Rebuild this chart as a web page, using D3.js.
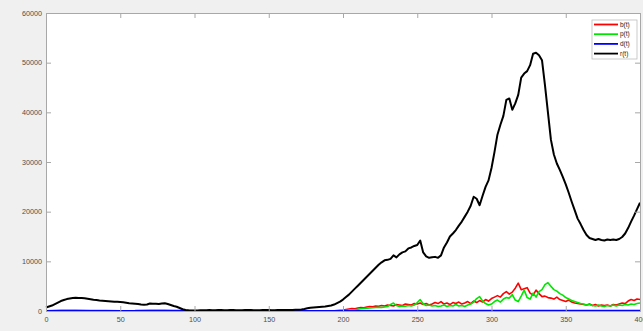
<!DOCTYPE html>
<html>
<head>
<meta charset="utf-8">
<script src="https://cdn.jsdelivr.net/npm/d3@7"></script>
<style>
  html, body { margin: 0; padding: 0; background: #f0f0f0; }
  svg { display: block; font-family: "Liberation Sans", Arial, sans-serif; }
</style>
</head>
<body>
<svg id="chart" width="643" height="331"></svg>
<script>
// r(t), sampled every 2 days from t = 0 to 400
const rValues = [
  700, 900, 1100, 1400, 1700, 2000, 2200, 2400, 2500, 2600,
  2650, 2600, 2600, 2550, 2450, 2350, 2250, 2200, 2100, 2050,
  2000, 1950, 1900, 1850, 1850, 1800, 1750, 1650, 1550, 1500,
  1450, 1400, 1300, 1250, 1300, 1500, 1450, 1450, 1400, 1500,
  1550, 1400, 1200, 1000, 850, 600, 350, 200, 150, 120,
  100, 120, 150, 130, 160, 180, 150, 170, 200, 190,
  160, 150, 180, 200, 170, 150, 160, 190, 210, 180,
  160, 150, 170, 190, 200, 180, 170, 160, 180, 200,
  220, 210, 190, 200, 230, 250, 300, 400, 550, 650,
  700, 750, 800, 850, 900, 1000, 1100, 1300, 1600, 1900,
  2300, 2800, 3300, 3900, 4500, 5100, 5700, 6300, 6900, 7500,
  8100, 8700, 9300, 9800, 10200, 10300, 10500, 11200, 10800, 11400,
  11800, 12000, 12600, 12800, 13100, 13300, 14200, 11800, 11000, 10700,
  10800, 10900, 10700, 11200, 12800, 13800, 15000, 15600, 16300, 17200,
  18000, 19000, 20000, 21200, 23000, 22600, 21300, 23200, 25000, 26300,
  28800, 32000, 35500, 37500, 39300, 42500, 42800, 40500, 41800, 43500,
  47000, 47800, 48300, 49500, 51800, 52000, 51500, 50500, 45500, 40000,
  34500, 31500, 29700, 28400, 27000, 25500, 23800, 22000, 20300, 18600,
  17500, 16300, 15300, 14700, 14500, 14300, 14500, 14300, 14200, 14400,
  14300, 14400, 14300, 14500, 14900, 15600, 16700, 18000, 19200, 20500,
  21800
];

// b(t), p(t), d(t) before the outbreak: sparse samples
const earlyDays = [0, 10, 20, 30, 40, 50, 60, 70, 80, 90, 100, 120, 140, 160, 180, 194];
const bEarly = [60, 120, 150, 90, 80, 60, 70, 150, 120, 60, 30, 20, 20, 30, 40, 60];
const pEarly = [30, 50, 60, 50, 40, 40, 30, 50, 40, 120, 40, 20, 10, 20, 10, 0];
const dEarly = [10, 20, 20, 20, 20, 10, 10, 20, 20, 20, 10, 10, 10, 10, 10, 10];

// b(t), p(t), d(t) from t = 196 to 400, every 2 days
const bLate = [
  100, 150, 200, 300, 400, 500, 450, 600, 700, 650,
  800, 900, 850, 1000, 950, 1100, 1000, 1200, 1100, 1000,
  1300, 1200, 1100, 1400, 1300, 1200, 1500, 1400, 1600, 1300,
  1500, 1200, 1400, 1700, 1500, 1900, 1400, 1600, 1300, 1700,
  1500, 1800, 1400, 1600, 1900, 1500, 2000, 1700, 2100, 1800,
  2300, 2000, 2500, 2800, 3100, 2800, 3500, 3900, 3400, 3800,
  4600, 5600, 4300, 4500, 4700, 3600, 3200, 4200, 3500, 2900,
  3000, 2700, 2600, 2400, 2800, 2300, 2100, 1900, 2200, 1800,
  1600, 1500, 1400, 1300, 1200, 1400, 1100, 1300, 1000, 1200,
  1100, 1200, 1000, 1300, 1200, 1400, 1600, 1500, 2000, 2300,
  2100, 2400, 2300
];
const pLate = [
  0, 0, 50, 100, 150, 200, 250, 350, 450, 500,
  550, 600, 650, 700, 750, 700, 800, 900, 1300, 1600,
  1100, 900, 1000, 950, 1100, 1000, 1200, 1700, 2300, 1400,
  1100, 1200, 1000, 1100, 900, 1000, 1200, 900, 1100, 1000,
  1300, 1000, 1100, 900, 1200, 1400, 1800, 2500, 2900, 2000,
  1500, 1200, 1400, 1900, 2200, 1800, 2400, 2700, 2600, 3300,
  2200, 1900, 3000, 4200, 2700, 2400, 3600, 2800, 3900, 4300,
  5300, 5700, 5000, 4300, 4000, 3500, 3200, 2700, 2400, 2100,
  1900, 1700, 1500, 1400, 1200, 1300, 1100, 1000, 1200, 1000,
  900, 1100, 1000, 1200, 1000, 1200, 1100, 1300, 1200, 1400,
  1300, 1500, 1600
];
const dLate = [
  10, 10, 10, 20, 20, 20, 20, 30, 30, 30,
  30, 30, 40, 40, 40, 40, 40, 40, 50, 50,
  50, 50, 50, 50, 50, 50, 50, 60, 60, 50,
  50, 50, 50, 50, 50, 50, 50, 50, 50, 50,
  50, 50, 50, 50, 50, 50, 60, 60, 60, 60,
  60, 60, 60, 70, 70, 70, 70, 80, 80, 80,
  80, 90, 90, 90, 90, 80, 80, 90, 90, 80,
  80, 80, 80, 70, 70, 70, 70, 60, 60, 60,
  60, 50, 50, 50, 50, 50, 50, 50, 50, 50,
  50, 50, 50, 50, 50, 50, 50, 50, 60, 60,
  60, 60, 60
];

const xTicks = [0, 50, 100, 150, 200, 250, 300, 350, 400];
const yTicks = [0, 10000, 20000, 30000, 40000, 50000, 60000];
const seriesNames = ["b(t)", "p(t)", "d(t)", "r(t)"];
const seriesColors = ["#ff0000", "#00e600", "#0000ff", "#000000"];

const rDays = d3.range(0, 401, 2);
const lateDays = d3.range(196, 401, 2);

const svg = d3.select("#chart");
const margin = { left: 46, right: 3, top: 13, bottom: 20 };
const W = 643, H = 331;
const x = d3.scaleLinear().domain([0, 400]).range([margin.left, W - margin.right]);
const y = d3.scaleLinear().domain([0, 60000]).range([H - margin.bottom, margin.top]);

// plot area
svg.append("rect")
  .attr("x", x(0)).attr("y", y(60000))
  .attr("width", x(400) - x(0)).attr("height", y(0) - y(60000))
  .attr("fill", "#ffffff");

const zip = (ds, vs) => ds.map((d, i) => [d, vs[i]]);
const series = [
  zip(earlyDays, bEarly).concat(zip(lateDays, bLate)),
  zip(earlyDays, pEarly).concat(zip(lateDays, pLate)),
  zip(earlyDays, dEarly).concat(zip(lateDays, dLate)),
  zip(rDays, rValues)
];

const line = d3.line().x(d => x(d[0])).y(d => y(d[1]));
const widths = [1.6, 1.6, 1.8, 2];
series.forEach((s, i) => {
  svg.append("path")
    .datum(s)
    .attr("fill", "none")
    .attr("stroke", seriesColors[i])
    .attr("stroke-width", widths[i])
    .attr("stroke-linejoin", "round")
    .attr("d", line);
});

// axes in a box with inward ticks on every side
const axisColor = "#a8a8a8";
const labelColor = "#4d4d4d";
function styleAxis(g) {
  g.select(".domain").attr("stroke", axisColor);
  g.selectAll(".tick line").attr("stroke", axisColor);
  g.selectAll(".tick text").attr("fill", labelColor).attr("font-size", 7.2);
}
svg.append("g").attr("transform", `translate(0,${y(0)})`)
  .call(d3.axisBottom(x).tickValues(xTicks).tickSize(-5).tickPadding(6).tickFormat(d3.format("d")))
  .call(styleAxis);
svg.append("g").attr("transform", `translate(0,${y(60000)})`)
  .call(d3.axisTop(x).tickValues(xTicks).tickSize(-5).tickFormat(""))
  .call(styleAxis);
svg.append("g").attr("transform", `translate(${x(0)},0)`)
  .call(d3.axisLeft(y).tickValues(yTicks).tickSize(-5).tickPadding(4).tickFormat(d3.format("d")))
  .call(styleAxis);
svg.append("g").attr("transform", `translate(${x(400)},0)`)
  .call(d3.axisRight(y).tickValues(yTicks).tickSize(-5).tickFormat(""))
  .call(styleAxis);

// legend
const lg = svg.append("g").attr("transform", "translate(592,20)");
lg.append("rect").attr("width", 45).attr("height", 39)
  .attr("fill", "#ffffff").attr("stroke", "#bdbdbd").attr("stroke-width", 0.8);
seriesNames.forEach((name, i) => {
  const yy = 4.5 + i * 9.7;
  lg.append("line").attr("x1", 2).attr("x2", 26).attr("y1", yy).attr("y2", yy)
    .attr("stroke", seriesColors[i]).attr("stroke-width", 1.8);
  lg.append("text").attr("x", 28).attr("y", yy).attr("dy", "0.35em")
    .attr("font-size", 6.5).attr("fill", "#222").text(name);
});
</script>
</body>
</html>
